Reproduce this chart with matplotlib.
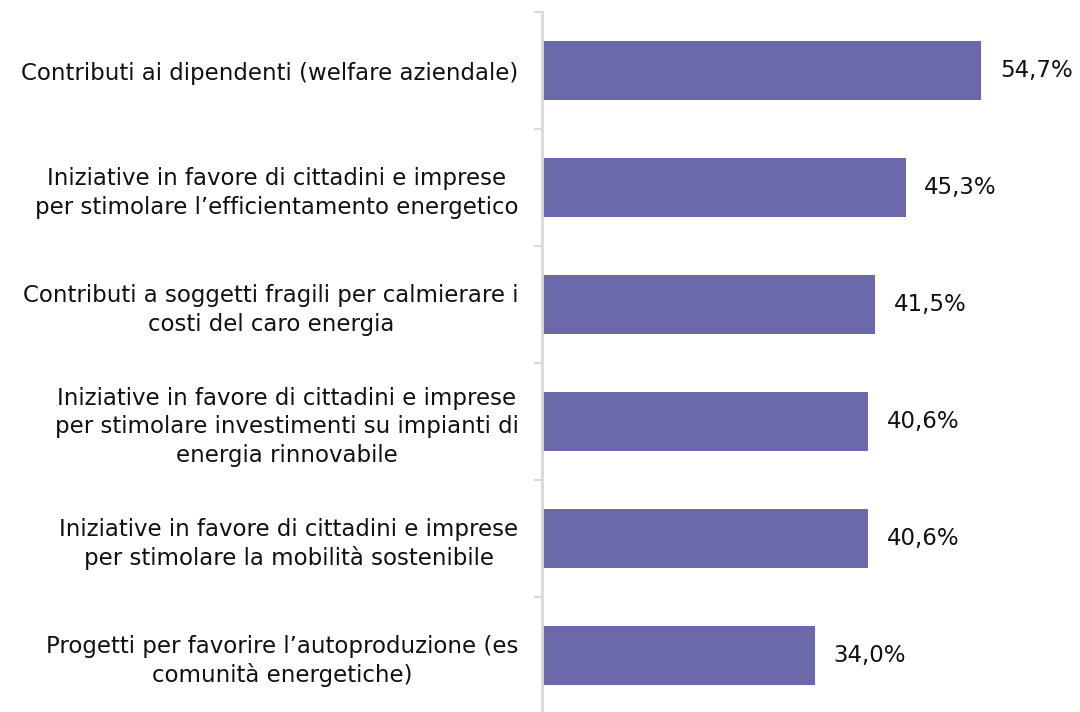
import matplotlib.pyplot as plt

categories = [
    "Contributi ai dipendenti (welfare aziendale)",
    "Iniziative in favore di cittadini e imprese\nper stimolare l\u2019efficientamento energetico",
    "Contributi a soggetti fragili per calmierare i\ncosti del caro energia",
    "Iniziative in favore di cittadini e imprese\nper stimolare investimenti su impianti di\nenergia rinnovabile",
    "Iniziative in favore di cittadini e imprese\nper stimolare la mobilit\u00e0 sostenibile",
    "Progetti per favorire l\u2019autoproduzione (es\ncomunit\u00e0 energetiche)",
]
values = [54.7, 45.3, 41.5, 40.6, 40.6, 34.0]
value_labels = ["54,7%", "45,3%", "41,5%", "40,6%", "40,6%", "34,0%"]

plt.rcParams['font.family'] = ['DejaVu Sans']

fig = plt.figure(figsize=(10.8, 7.12), dpi=100)
ax = fig.add_axes([0.502, -0.003, 0.446, 0.986])

pos = list(range(len(values)))
ax.barh(pos, values, height=0.5, color='#6B69AA')
for p, v, lab in zip(pos, values, value_labels):
    ax.text(v + 2.3, p, lab, va='center', ha='left', fontsize=16.5, color='#111111')

ax.set_ylim(len(values) - 0.5, -0.5)
ax.set_xlim(0, 60)

ax.set_yticks(pos)
ax.set_yticklabels(categories, fontsize=16.5, color='#111111',
                   multialignment='center', linespacing=1.3)
ax.tick_params(axis='y', which='major', length=0, pad=17)
ax.set_yticks([p + 0.5 for p in pos[:-1]] + [-0.5], minor=True)
ax.tick_params(axis='y', which='minor', length=6, width=1.5, color='#D9D9D9')

ax.set_xticks([])
for s in ['top', 'right', 'bottom']:
    ax.spines[s].set_visible(False)
ax.spines['left'].set_color('#D9D9D9')
ax.spines['left'].set_linewidth(2)

plt.savefig('out.png', dpi=100)
